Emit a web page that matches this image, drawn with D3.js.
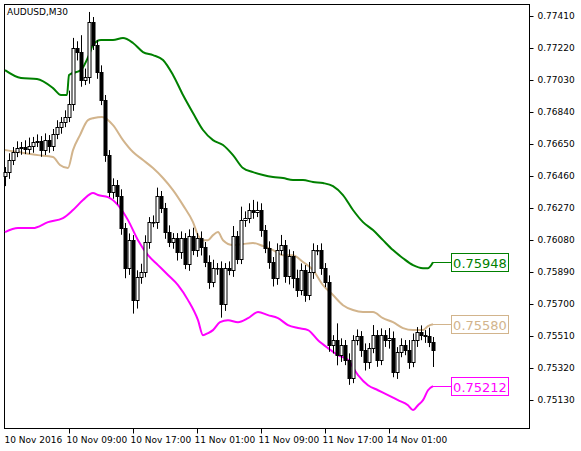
<!DOCTYPE html>
<html><head><meta charset="utf-8">
<script src="https://cdn.jsdelivr.net/npm/d3@7"></script>
<style>body{margin:0;background:#fff}svg{display:block}text{font-family:"DejaVu Sans",sans-serif}</style>
</head><body><svg id="c" width="581" height="451"></svg>
<script>
const closes=[0.76483,0.76555,0.76602,0.76626,0.76632,0.76620,0.76638,0.76662,0.76667,0.76614,0.76673,0.76638,0.76709,0.76751,0.76780,0.76810,0.76887,0.77220,0.77196,0.77030,0.77048,0.77374,0.77238,0.77077,0.76911,0.76584,0.76365,0.76406,0.76341,0.76151,0.75913,0.76079,0.75723,0.75860,0.75889,0.76068,0.76186,0.76186,0.76341,0.76270,0.76127,0.76068,0.76091,0.76008,0.76091,0.75937,0.76103,0.76020,0.76091,0.76038,0.75949,0.75830,0.75913,0.75913,0.75699,0.75913,0.75901,0.76103,0.75967,0.76198,0.76210,0.76258,0.76246,0.76258,0.76139,0.76032,0.75949,0.75854,0.76020,0.76050,0.75866,0.75984,0.75854,0.75782,0.75901,0.75753,0.75889,0.76020,0.76020,0.75913,0.75830,0.75456,0.75485,0.75396,0.75456,0.75367,0.75260,0.75485,0.75509,0.75426,0.75355,0.75438,0.75515,0.75367,0.75515,0.75485,0.75497,0.75295,0.75414,0.75456,0.75426,0.75355,0.75485,0.75533,0.75515,0.75509,0.75474,0.75426];
const firstOpen=0.76460;
const wickUp=[3,4,3,4,3,4,5,3,4,3,4,3,3,4,3,4,8,6,4,10,5,6,3,3,4,3,3,4,3,4,3,4,3,4,5,4,3,4,5,3,3,4,3,3,4,3,4,5,3,4,3,4,5,3,4,3,4,6,3,8,4,4,6,5,4,3,4,3,4,6,3,4,3,5,4,3,6,4,3,4,3,4,3,10,4,3,4,3,4,3,4,3,6,3,4,3,6,4,3,4,3,6,4,3,4,3,5,3];
const wickDn=[6,4,3,3,4,3,3,4,3,4,3,4,3,3,4,3,3,4,5,4,3,4,3,4,3,4,3,4,5,4,6,4,8,5,4,3,4,3,4,3,4,3,4,5,4,3,4,3,4,5,3,4,3,4,8,4,3,4,3,3,4,3,4,3,4,3,4,5,4,3,4,5,6,4,3,4,3,4,3,4,3,4,5,6,4,3,4,3,3,4,5,4,3,4,3,4,5,3,4,3,3,4,3,4,3,4,3,10];
const upperIdx=[0,4,8,12,14,15.5,16,19,21,22,24,27,29.5,32,34.5,37,39.5,42,44.5,47,49.5,52,54.5,57,59.5,62,64.5,67,69.5,72,74.5,77,79.5,82,84.5,87,89.5,92,94.5,97,99.5,102,104.5,105.75,107];
const upperVal=[0.77089,0.77042,0.77036,0.76982,0.76941,0.76941,0.77060,0.77089,0.77178,0.77238,0.77267,0.77267,0.77279,0.77250,0.77196,0.77178,0.77149,0.77060,0.76941,0.76834,0.76733,0.76673,0.76644,0.76584,0.76507,0.76483,0.76466,0.76454,0.76448,0.76436,0.76436,0.76424,0.76418,0.76400,0.76347,0.76258,0.76186,0.76139,0.76079,0.76020,0.75972,0.75931,0.75913,0.75913,0.75948];
const midIdx=[0,3.25,8.25,12,13.75,15.75,17,18.75,20.75,22.25,24.25,27,29.5,32,34.5,37,39.5,42,44.5,47,48.25,49.5,50.75,52,53.25,54.5,57,59.5,62,64.5,67,69.5,72,74.5,77,79.5,82,84.5,87,89.5,92,94.5,97,99.5,102,104.5,105.75,107];
const midVal=[0.76614,0.76602,0.76584,0.76573,0.76525,0.76507,0.76614,0.76703,0.76792,0.76804,0.76810,0.76762,0.76673,0.76602,0.76555,0.76507,0.76448,0.76376,0.76287,0.76186,0.76109,0.76079,0.76079,0.76109,0.76127,0.76079,0.76050,0.76056,0.76062,0.76044,0.76020,0.75990,0.75990,0.75949,0.75901,0.75812,0.75753,0.75693,0.75664,0.75652,0.75652,0.75616,0.75592,0.75557,0.75545,0.75545,0.75569,0.75580];
const lowerIdx=[0,3.25,7,10.75,14.5,17,19.5,22,23.25,25.75,28.25,30.75,33.25,35.75,38.25,40.75,43.25,45.75,48.25,49.5,50.75,52,53.75,55.75,58.25,60.75,63.25,65.75,68.25,70.75,73.25,75.75,78.25,80.75,83.25,85.75,88.25,90.75,93.25,95.75,98.25,100.75,102,103.25,104.5,105.75,107];
const lowerVal=[0.76127,0.76151,0.76151,0.76186,0.76210,0.76258,0.76317,0.76359,0.76347,0.76335,0.76287,0.76198,0.76079,0.75990,0.75931,0.75872,0.75812,0.75723,0.75604,0.75515,0.75527,0.75545,0.75592,0.75604,0.75592,0.75616,0.75652,0.75634,0.75616,0.75575,0.75557,0.75545,0.75485,0.75438,0.75396,0.75367,0.75278,0.75218,0.75188,0.75159,0.75129,0.75099,0.75070,0.75099,0.75129,0.75188,0.75212];
const priceTicks=[0.77410,0.77220,0.77030,0.76840,0.76650,0.76460,0.76270,0.76080,0.75890,0.75700,0.75510,0.75320,0.75130];
const timeTickIdx=[0,16,32,48,64,80,96];
const timeTickLabels=["10 Nov 2016","10 Nov 09:00","10 Nov 17:00","11 Nov 01:00","11 Nov 09:00","11 Nov 17:00","14 Nov 01:00"];
const bandNames=["upper","middle","lower"];
const bandColors=["#008000","#d2b48c","#ff00ff"];

const svg=d3.select("#c");
const L=4,R=529,T=4,B=428;
const x=d3.scaleLinear().domain([0,107]).range([5,433]);
const y=d3.scaleLinear().domain([0.75130,0.77410]).range([400,16]);
svg.append("rect").attr("x",L+.5).attr("y",T+.5).attr("width",R-L).attr("height",B-T).attr("fill","#fff").attr("stroke","#000");
const yAx=d3.axisRight(y).tickValues(priceTicks).tickFormat(d3.format(".5f")).tickSize(4);
const ga=svg.append("g").attr("transform",`translate(${R+.5},0)`).call(yAx);
ga.select(".domain").remove();
ga.selectAll("text").attr("font-size",9).attr("x",8);
const gx=svg.append("g").attr("transform",`translate(0,${B+.5})`);
timeTickIdx.forEach((t,i)=>{
  const xx=Math.round(x(t))+.5;
  if(i>0) gx.append("line").attr("x1",xx).attr("x2",xx).attr("y1",0).attr("y2",5).attr("stroke","#000");
  gx.append("text").attr("x",i==0?xx-1:xx-3).attr("y",14).attr("font-size",9).text(timeTickLabels[i]);
});
svg.append("text").attr("x",7).attr("y",15).attr("font-size",9).text("AUDUSD,M30");

const bands=[[upperIdx,upperVal],[midIdx,midVal],[lowerIdx,lowerVal]];
const line=d3.line().x(d=>x(d[0])).y(d=>y(d[1])).curve(d3.curveMonotoneX);
bands.forEach((b,k)=>{
  svg.append("path").attr("d",line(b[0].map((v,i)=>[v,b[1][i]]))).attr("fill","none").attr("stroke",bandColors[k]).attr("stroke-width",2);
});
// candles
closes.forEach((c,i)=>{
  const o=i==0?firstOpen:closes[i-1];
  const hi=Math.max(o,c)+wickUp[i]*0.0001, lo=Math.min(o,c)-wickDn[i]*0.0001;
  const cx=Math.round(x(i))+.5;
  svg.append("line").attr("x1",cx).attr("x2",cx).attr("y1",y(hi)).attr("y2",y(lo)).attr("stroke","#000");
  const top=Math.round(y(Math.max(o,c))), bot=Math.round(y(Math.min(o,c)));
  svg.append("rect").attr("x",cx-1.5).attr("y",top+.5).attr("width",3).attr("height",Math.max(bot-top,0.5))
    .attr("fill",c>=o?"#fff":"#000").attr("stroke","#000").attr("stroke-width",1);
});
// value labels
bands.forEach((b,k)=>{
  const v=b[1][b[1].length-1], yy=Math.round(y(v))+.5;
  svg.append("line").attr("x1",x(107)).attr("x2",451).attr("y1",yy).attr("y2",yy).attr("stroke",bandColors[k]);
  svg.append("rect").attr("x",451.5).attr("y",yy-9).attr("width",57).attr("height",18).attr("fill","#fff").attr("stroke",bandColors[k]);
  svg.append("text").attr("x",480).attr("y",yy+5).attr("text-anchor","middle").attr("font-size",13).attr("fill",bandColors[k]).text(d3.format(".5f")(v));
});
</script></body></html>
